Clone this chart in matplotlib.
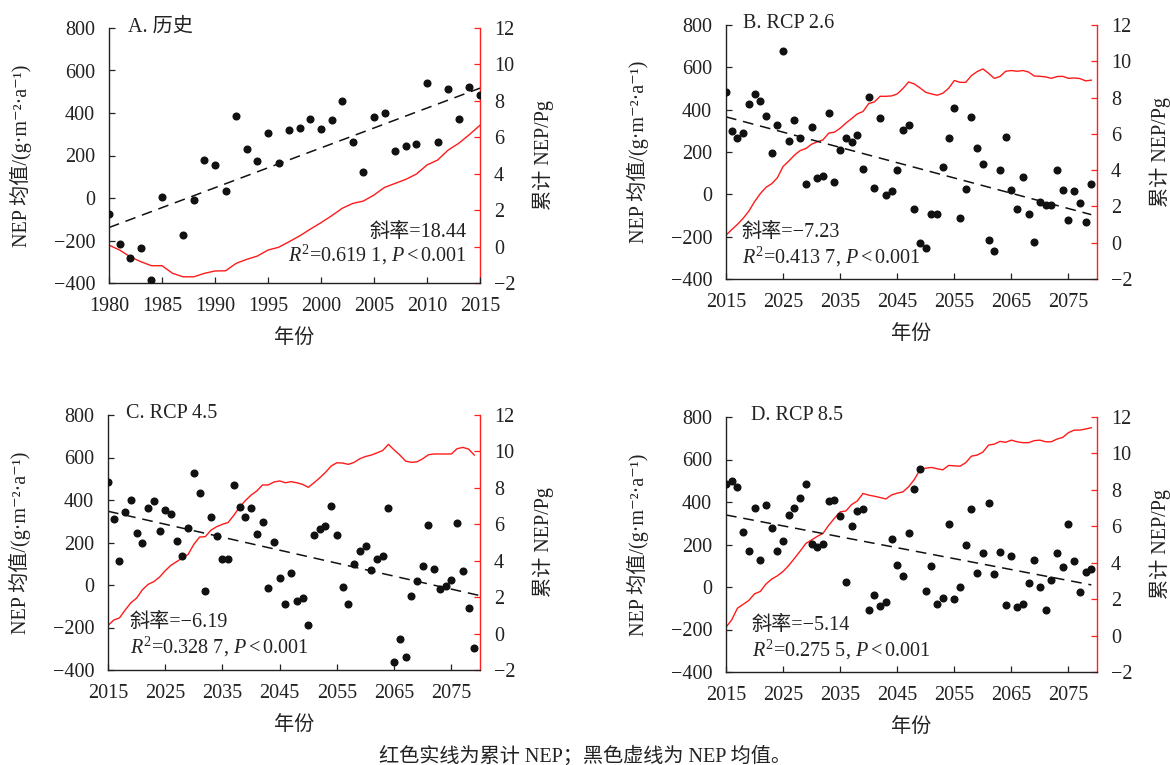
import numpy as np
import matplotlib
matplotlib.use("Agg")
import matplotlib.pyplot as plt

plt.rcParams['font.family'] = ['Liberation Serif', 'DejaVu Serif', 'Noto Sans CJK SC']
plt.rcParams['mathtext.fontset'] = 'custom'
plt.rcParams['mathtext.rm'] = 'Liberation Serif'
plt.rcParams['mathtext.it'] = 'Liberation Serif:italic'
plt.rcParams['axes.unicode_minus'] = True

# ---------------- data ----------------
years_a = list(range(1980, 2016))
nep_a = [-76, -217, -282, -235, -387, 3, np.nan, -176, -10, 181, 154, 33, 386, 231, 176, 305,
         165, 319, 331, 372, 325, 369, 457, 264, 121, 379, 402, 221, 245, 253, 541, 262,
         514, 374, 522, 486]
cum_a = [0.08, -0.19, -0.56, -0.83, -1.05, -1.05, -1.47, -1.66, -1.66, -1.47, -1.34, -1.33,
         -0.92, -0.70, -0.52, -0.19, -0.04, 0.27, 0.59, 0.96, 1.31, 1.69, 2.10, 2.37, 2.50,
         2.83, 3.25, 3.47, 3.69, 3.98, 4.48, 4.75, 5.30, 5.67, 6.15, 6.66]
trend_a_years = [1980, 2015]
trend_a = [-139, 517]

years_f = list(range(2015, 2080))
nep_b = [482, 298, 267, 291, 427, 473, 440, 372, 196, 328, 676, 254, 349, 267, 50, 319,
         78, 86, 382, 56, 209, 267, 245, 280, 122, 460, 31, 360, -2, 14, 116, 306, 327,
         -68, -230, -252, -91, -91, 130, 267, 410, -112, 23, 365, 217, 144, -216, -268,
         114, 269, 20, -71, 83, -91, -224, -35, -52, -52, 114, 22, -121, 17, -43, -131, 48]
cum_b = [0.42, 0.72, 1.01, 1.34, 1.74, 2.26, 2.70, 3.05, 3.25, 3.58, 4.20, 4.50, 4.83,
         5.08, 5.19, 5.43, 5.56, 5.67, 6.04, 6.09, 6.31, 6.59, 6.84, 7.10, 7.23, 7.67,
         7.76, 8.07, 8.07, 8.09, 8.20, 8.50, 8.86, 8.75, 8.53, 8.29, 8.20, 8.13, 8.24,
         8.51, 8.94, 8.84, 8.84, 9.21, 9.43, 9.58, 9.34, 9.06, 9.16, 9.45, 9.49, 9.45,
         9.49, 9.41, 9.19, 9.17, 9.14, 9.06, 9.16, 9.17, 9.06, 9.08, 9.05, 8.92, 8.96]
trend_b_years = [2015, 2079]
trend_b = [366, -96]

nep_c = [485, 309, 111, 344, 400, 243, 198, 364, 395, 256, 351, 336, 207, 135, 270, 527,
         433, -28, 320, 231, 122, 122, 471, 369, 322, 364, 238, 295, -13, 202, 35, -88, 58,
         -75, -60, -187, 235, 264, 279, 373, 235, -11, -88, 99, 160, 185, 69, 124, 135, 362,
         -362, -256, -340, -53, 17, 91, 282, 75, -17, -6, 22, 293, 67, -110, -295]
cum_c = [0.44, 0.74, 0.86, 1.29, 1.69, 1.95, 2.40, 2.70, 2.85, 3.10, 3.45, 3.75, 3.95,
         4.15, 4.35, 4.90, 5.30, 5.32, 5.68, 5.87, 6.00, 6.10, 6.50, 6.95, 7.30, 7.60,
         7.83, 8.16, 8.16, 8.32, 8.38, 8.28, 8.34, 8.28, 8.19, 8.03, 8.28, 8.55, 8.85,
         9.20, 9.38, 9.36, 9.29, 9.40, 9.60, 9.72, 9.80, 9.92, 10.05, 10.39, 10.08, 9.80,
         9.47, 9.40, 9.43, 9.60, 9.82, 9.86, 9.86, 9.86, 9.86, 10.15, 10.22, 10.13, 9.80]
trend_c_years = [2015, 2080]
trend_c = [347, -50]

nep_d = [487, 498, 471, 259, 168, 374, 127, 388, 280, 168, 218, 339, 372, 421, 487, 203,
         190, 201, 407, 408, 335, 22, 286, 357, 368, -109, -36, -88, -71, 225, 103, 52, 253,
         460, 555, -21, 97, -81, -51, 297, -57, 1, 198, 366, 64, 158, 394, 63, 166, -84, 147,
         -96, -81, 20, 127, -2, -106, 34, 162, 92, 297, 121, -24, 72, 85]
cum_d = [0.46, 0.86, 1.50, 1.71, 1.93, 2.29, 2.42, 2.83, 3.10, 3.28, 3.52, 3.85, 4.24,
         4.64, 5.06, 5.25, 5.45, 5.61, 6.06, 6.44, 6.79, 6.84, 7.19, 7.39, 7.80, 7.71,
         7.65, 7.58, 7.50, 7.72, 7.82, 7.89, 8.17, 8.57, 9.12, 9.19, 9.23, 9.16, 9.10,
         9.34, 9.32, 9.30, 9.49, 9.85, 9.91, 10.07, 10.46, 10.51, 10.66, 10.61, 10.73,
         10.64, 10.59, 10.59, 10.70, 10.73, 10.64, 10.64, 10.79, 10.88, 11.14, 11.28,
         11.28, 11.34, 11.41]
trend_d_years = [2015, 2079]
trend_d = [339, 10]

xticks_hist = [1980, 1985, 1990, 1995, 2000, 2005, 2010, 2015]
xticks_fut = [2015, 2025, 2035, 2045, 2055, 2065, 2075]
yticks_left = [-400, -200, 0, 200, 400, 600, 800]
yticks_right = [-2, 0, 2, 4, 6, 8, 10, 12]

titles = ["A. 历史", "B. RCP 2.6", "C. RCP 4.5", "D. RCP 8.5"]
slopes = ["斜率=18.44", "斜率=−7.23", "斜率=−6.19", "斜率=−5.14"]
fits = [r"$R^{2}$=0.619 1, $P<$0.001", r"$R^{2}$=0.413 7, $P<$0.001",
        r"$R^{2}$=0.328 7, $P<$0.001", r"$R^{2}$=0.275 5, $P<$0.001"]
ylabel_left = "NEP 均值/(g·m⁻²·a⁻¹)"
ylabel_right = "累计 NEP/Pg"
xlabel = "年份"
caption = "红色实线为累计 NEP；黑色虚线为 NEP 均值。"

# ---------------- figure ----------------
W, H = 1170, 765
fig = plt.figure(figsize=(W / 100, H / 100), dpi=100)
FS = 14.5


def fx(x):
    return x / W


def fy(y):
    return 1 - y / H


def panel(box, years, nep, cum, tyears, tvals, xlim, xticks, title, slope, fit,
          title_x, stat_x, stat_y, stat_ha):
    l, r, t, b = box
    ax = fig.add_axes([fx(l), fy(b), fx(r) - fx(l), fy(t) - fy(b)])
    ax.plot(years, nep, 'o', color='#111111', ms=4.8, zorder=3)
    ax.plot(tyears, tvals, color='#111111', lw=1.1, dashes=(7, 4.5), zorder=2)
    ax.set_xlim(*xlim)
    ax.set_ylim(-400, 800)
    ax.set_xticks(xticks)
    ax.set_yticks(yticks_left)
    for s in ['top', 'right']:
        ax.spines[s].set_visible(False)
    for s in ['left', 'bottom']:
        ax.spines[s].set_linewidth(1.0)
        ax.spines[s].set_color('#222222')
    ax.tick_params(direction='in', length=4, width=0.9, labelsize=FS, pad=10,
                   colors='#222222', labelcolor='#222222')
    ax2 = ax.twinx()
    ax2.plot(years, cum, color='#ff1a1a', lw=1.0, zorder=1)
    ax2.set_ylim(-2, 12)
    ax2.set_yticks(yticks_right)
    for s in ['top', 'left', 'bottom']:
        ax2.spines[s].set_visible(False)
    ax2.spines['right'].set_color('#ff2020')
    ax2.spines['right'].set_linewidth(1.0)
    ax2.tick_params(direction='in', length=4, width=0.9, labelsize=FS, pad=10,
                    color='#ff2020', labelcolor='#222222')
    ax.set_zorder(ax2.get_zorder() + 1)
    ax.patch.set_visible(False)

    # title
    fig.text(fx(title_x), fy(t - 1), title, fontsize=FS, ha='left', va='center',
             color='#222222')
    # stats
    fig.text(fx(stat_x), fy(stat_y[0]), slope, fontsize=FS, ha=stat_ha, va='center',
             color='#222222')
    fig.text(fx(stat_x), fy(stat_y[1]), fit, fontsize=FS, ha=stat_ha, va='center',
             color='#222222')
    # axis labels
    fig.text(fx(l - 88), fy((t + b) / 2), ylabel_left, fontsize=FS, rotation=90,
             ha='center', va='center', color='#222222')
    fig.text(fx(r + 63), fy((t + b) / 2), ylabel_right, fontsize=FS, rotation=90,
             ha='center', va='center', color='#222222')
    fig.text(fx((l + r) / 2), fy(b + 55), xlabel, fontsize=FS, ha='center',
             va='center', color='#222222')
    return ax


panel((109, 480, 28, 283), years_a, nep_a, cum_a, trend_a_years, trend_a,
      (1980, 2015), xticks_hist, titles[0], slopes[0], fits[0],
      128, 467, (232, 255), 'right')
panel((726, 1097, 25, 279), years_f, nep_b, cum_b, trend_b_years, trend_b,
      (2015, 2080), xticks_fut, titles[1], slopes[1], fits[1],
      743, 742, (232, 257), 'left')
panel((108, 480, 415, 670), years_f, nep_c, cum_c, trend_c_years, trend_c,
      (2015, 2080), xticks_fut, titles[2], slopes[2], fits[2],
      126, 130, (622, 647), 'left')
panel((726, 1097, 417, 672), years_f, nep_d, cum_d, trend_d_years, trend_d,
      (2015, 2080), xticks_fut, titles[3], slopes[3], fits[3],
      751, 752, (625, 650), 'left')

fig.text(fx(585), fy(756), caption, fontsize=FS, ha='center', va='center',
         color='#222222')

fig.savefig("out.png", dpi=100)
